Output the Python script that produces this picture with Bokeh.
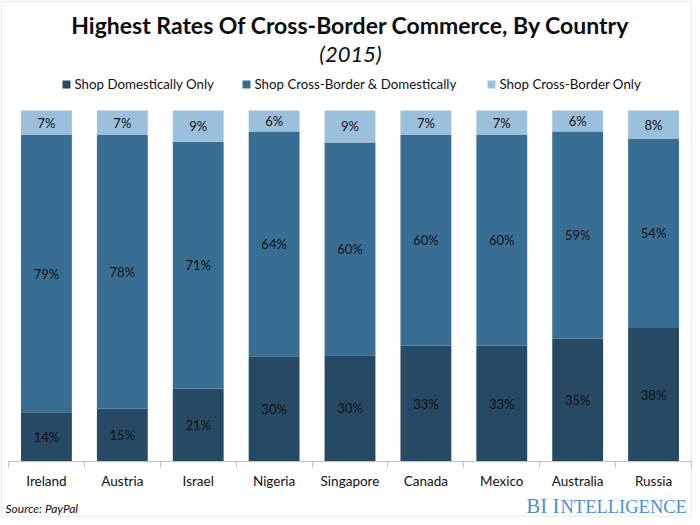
from bokeh.plotting import figure
from bokeh.models import (ColumnDataSource, Range1d, FixedTicker, Label, Legend,
                          LegendItem, BoxAnnotation)
from bokeh.embed import file_html
from bokeh.resources import INLINE
from bokeh.core.properties import value

# ---- data ----
countries = ["Ireland", "Austria", "Israel", "Nigeria", "Singapore",
             "Canada", "Mexico", "Australia", "Russia"]
domestic_only = [14, 15, 21, 30, 30, 33, 33, 35, 38]
cross_and_domestic = [79, 78, 71, 64, 60, 60, 60, 59, 54]
cross_only = [7, 7, 9, 6, 9, 7, 7, 6, 8]
series_names = ["Shop Domestically Only", "Shop Cross-Border & Domestically",
                "Shop Cross-Border Only"]
colors = ["#264a63", "#396e94", "#9bc0db"]

title_text = "Highest Rates Of Cross-Border Commerce, By Country"
subtitle_text = "(2015)"
source_text = "Source: PayPal"

FONT = "Lato"
W, H = 692, 517
# pixel geometry of the plotting area inside the canvas
AX_LEFT, AX_RIGHT = 8, 691      # x axis extent (canvas px)
BASE_Y, TOP_Y = 461, 110        # y of 0% and 100% (canvas px)

n = len(countries)
px_per_x = (AX_RIGHT - AX_LEFT) / n
px_per_y = BASE_Y - TOP_Y
x_start = -0.5 - AX_LEFT / px_per_x
x_end = -0.5 + (W - AX_LEFT) / px_per_x
y_start = -(H - BASE_Y) / px_per_y
y_end = BASE_Y / px_per_y

xs = list(range(n))
series = [domestic_only, cross_and_domestic, cross_only]
totals = [sum(v) for v in zip(*series)]
fracs = [[v / t for v, t in zip(s, totals)] for s in series]
keys = ["dom", "cbd", "cbo"]

data = {"x": xs}
for k, f in zip(keys, fracs):
    data[k] = f
src = ColumnDataSource(data)

p = figure(width=W, height=H, output_backend="svg", toolbar_location=None,
           x_range=Range1d(x_start, x_end), y_range=Range1d(y_start, y_end),
           min_border=0, min_border_left=0, min_border_right=0,
           min_border_top=0, min_border_bottom=0)
p.outline_line_color = None
p.grid.visible = False
p.yaxis.visible = False
p.background_fill_color = "white"
p.border_fill_color = "white"

renderers = p.vbar_stack(keys, x="x", width=0.67, color=colors, line_color=None,
                         source=src)

# value labels at segment middles
lx, ly, lt = [], [], []
for i in xs:
    bottom = 0.0
    for s, f in zip(series, fracs):
        lx.append(i)
        ly.append(bottom + f[i] / 2)
        lt.append(f"{s[i]}%")
        bottom += f[i]
lab_src = ColumnDataSource(dict(x=lx, y=ly, t=lt))
p.text(x="x", y="y", text="t", source=lab_src, text_align="center",
       text_baseline="middle", text_font=value(FONT), text_font_size="13px",
       text_color="#111111")

# x axis drawn at y = 0 inside the canvas
ax = p.xaxis[0]
ax.fixed_location = 0
ax.bounds = (-0.5, n - 0.5)
ax.ticker = FixedTicker(ticks=xs, minor_ticks=[i - 0.5 for i in range(n + 1)])
ax.major_label_overrides = {i: c for i, c in zip(xs, countries)}
ax.axis_line_color = "#bfbfbf"
ax.major_tick_line_color = None
ax.major_tick_out = 0
ax.major_tick_in = 0
ax.minor_tick_line_color = "#bfbfbf"
ax.minor_tick_out = 6
ax.minor_tick_in = 0
ax.major_label_standoff = 5
ax.major_label_text_font = FONT
ax.major_label_text_font_size = "13.5px"
ax.major_label_text_color = "#111111"

def cy(canvas_y):
    return H - canvas_y

# legends (one per item for exact placement)
leg_x = [60.5, 240.5, 485.5]
for r, name, x0 in zip(renderers, series_names, leg_x):
    lg = Legend(items=[LegendItem(label=name, renderers=[r])],
                location=(x0, cy(83.5) - 8), orientation="horizontal",
                glyph_width=10, glyph_height=10, label_standoff=4,
                label_text_font=FONT, label_text_font_size="13.3px",
                label_text_color="#111111", padding=0, margin=0,
                border_line_color=None, background_fill_alpha=0,
                label_height=10)
    p.add_layout(lg)

# title and subtitle
p.add_layout(Label(x=350, y=cy(24), x_units="screen", y_units="screen",
                   text=title_text, text_align="center", text_baseline="middle",
                   text_font=FONT, text_font_style="bold", text_font_size="23px",
                   text_color="#0d0d0d"))
p.add_layout(Label(x=350, y=cy(53), x_units="screen", y_units="screen",
                   text=subtitle_text, text_align="center", text_baseline="middle",
                   text_font=FONT, text_font_style="italic", text_font_size="22px",
                   text_color="#0d0d0d"))

# source
p.add_layout(Label(x=5, y=cy(508), x_units="screen", y_units="screen",
                   text=source_text, text_align="left", text_baseline="middle",
                   text_font=FONT, text_font_style="italic", text_font_size="12px",
                   text_color="#111111"))

# BI Intelligence logo
p.add_layout(Label(x=559, y=cy(505), x_units="screen", y_units="screen",
                   text="BI I", text_align="right", text_baseline="middle",
                   text_font="Liberation Serif", text_font_size="21px",
                   text_color="#4a8fd4"))
p.add_layout(Label(x=560, y=cy(506), x_units="screen", y_units="screen",
                   text="NTELLIGENCE", text_align="left", text_baseline="middle",
                   text_font="Liberation Serif", text_font_size="18.5px",
                   text_color="#4a8fd4"))

# outer frame
p.add_layout(BoxAnnotation(left=1, right=W - 1, top=cy(1), bottom=cy(H - 1),
                           left_units="screen", right_units="screen",
                           top_units="screen", bottom_units="screen",
                           fill_alpha=0, line_color="#c8c8c8", line_width=1.5))

open("out.html", "w").write(file_html(p, INLINE))
